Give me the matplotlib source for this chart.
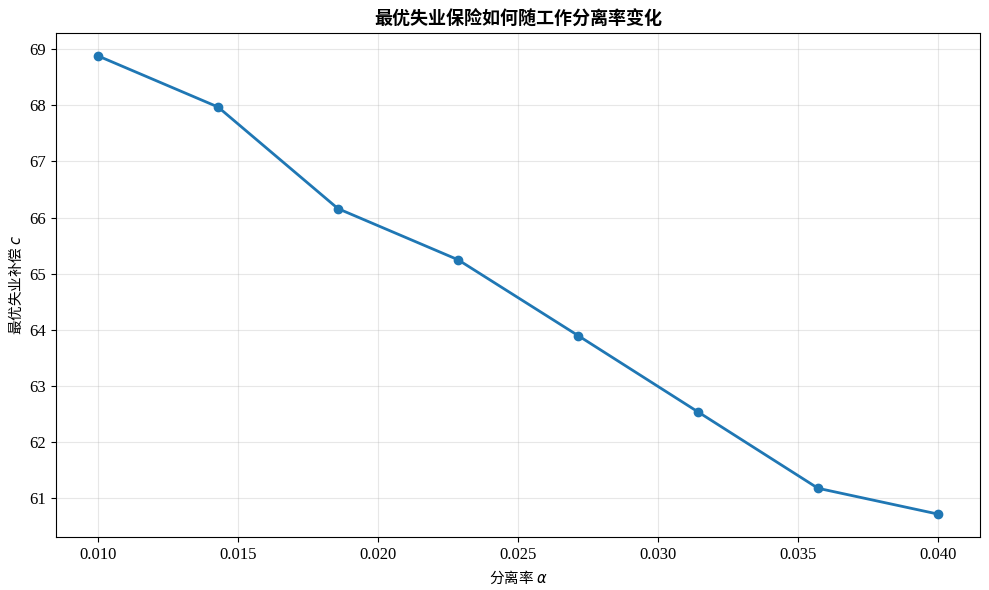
import matplotlib
matplotlib.use("Agg")
import matplotlib.pyplot as plt
import numpy as np

plt.rcParams['font.family'] = ['Liberation Serif', 'Noto Sans CJK SC', 'DejaVu Sans']
plt.rcParams['axes.unicode_minus'] = False

alpha = [0.010, 0.014286, 0.018571, 0.022857, 0.027143, 0.031429, 0.035714, 0.040]
c_opt = [68.88, 67.97, 66.16, 65.25, 63.90, 62.54, 61.18, 60.72]

title = "最优失业保险如何随工作分离率变化"
xlabel = "分离率 $\\alpha$"
ylabel = "最优失业补偿 $c$"

cjk = ['Noto Sans CJK SC']

fig, ax = plt.subplots(figsize=(9.89, 5.9), dpi=100)
ax.plot(alpha, c_opt, marker='o', color='#1f77b4', linewidth=2, markersize=6)
ax.set_title(title, fontsize=13, family=cjk, fontweight='bold')
ax.set_xlabel(xlabel, fontsize=10.5, family=cjk)
ax.set_ylabel(ylabel, fontsize=10.5, family=cjk)
ax.tick_params(labelsize=12)
ax.grid(True, alpha=0.3)
fig.subplots_adjust(left=56/989, right=980/989, top=1-33/590, bottom=1-537/590)
fig.savefig("out.png", dpi=100)
